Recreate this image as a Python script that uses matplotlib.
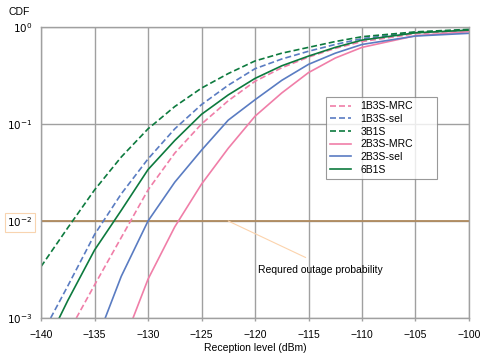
import matplotlib.pyplot as plt
import numpy as np

plt.rcParams['font.family'] = ['Liberation Sans', 'DejaVu Sans']

# CDF curves (x in dBm, y as log10 of CDF)
x_3b1s = [-140, -137.5, -135, -132.5, -130, -127.5, -125, -122.5, -120, -117.5, -115, -112.5, -110, -105, -100]
lg_3b1s = [-2.47, -2.07, -1.68, -1.34, -1.05, -0.82, -0.63, -0.48, -0.35, -0.27, -0.21, -0.15, -0.10, -0.05, -0.024]

x_1b3s_sel = [-139.1, -137.5, -135, -132.5, -130, -127.5, -125, -122.5, -120, -117.5, -115, -112.5, -110, -105, -100]
lg_1b3s_sel = [-3.0, -2.67, -2.14, -1.72, -1.36, -1.05, -0.80, -0.60, -0.43, -0.33, -0.25, -0.18, -0.12, -0.055, -0.03]

x_6b1s = [-138.3, -137.5, -135, -132.5, -130, -127.5, -125, -122.5, -120, -117.5, -115, -112.5, -110, -105, -100]
lg_6b1s = [-3.0, -2.82, -2.3, -1.89, -1.47, -1.17, -0.90, -0.70, -0.53, -0.40, -0.30, -0.21, -0.135, -0.06, -0.032]

x_1b3s_mrc = [-136.7, -135, -132.5, -130, -127.5, -125, -122.5, -120, -117.5, -115, -112.5, -110, -105, -100]
lg_1b3s_mrc = [-3.0, -2.66, -2.17, -1.68, -1.30, -1.0, -0.76, -0.56, -0.42, -0.31, -0.22, -0.15, -0.07, -0.035]

x_2b3s_sel = [-134.0, -132.5, -130, -127.5, -125, -122.5, -120, -117.5, -115, -112.5, -110, -105, -100]
lg_2b3s_sel = [-3.0, -2.57, -2.0, -1.6, -1.27, -0.96, -0.75, -0.55, -0.385, -0.27, -0.18, -0.093, -0.065]

x_2b3s_mrc = [-131.4, -130, -127.5, -125, -122.5, -120, -117.5, -115, -112.5, -110, -105, -100]
lg_2b3s_mrc = [-3.0, -2.6, -2.06, -1.62, -1.25, -0.92, -0.68, -0.47, -0.32, -0.21, -0.09, -0.048]

outage = 1e-2
xticks = [-140, -135, -130, -125, -120, -115, -110, -105, -100]
yticks = [1e-3, 1e-2, 1e-1, 1]
ytick_labels = ['$10^{-3}$', '$10^{-2}$', '$10^{-1}$', '$10^{0}$']

green = '#0d7a3e'
blue = '#5a7cc2'
pink = '#f07ea8'
grid_c = '#a0a0a0'

fig = plt.figure(figsize=(4.86, 3.62), dpi=100)
ax = fig.add_axes([0.0844, 0.1215, 0.8806, 0.8039])

dash = (3.6, 1.8)
ax.plot(x_1b3s_mrc, np.power(10.0, lg_1b3s_mrc), color=pink, lw=1.2, dashes=dash, label='1B3S-MRC')
ax.plot(x_1b3s_sel, np.power(10.0, lg_1b3s_sel), color=blue, lw=1.2, dashes=dash, label='1B3S-sel')
ax.plot(x_3b1s, np.power(10.0, lg_3b1s), color=green, lw=1.2, dashes=dash, label='3B1S')
ax.plot(x_2b3s_mrc, np.power(10.0, lg_2b3s_mrc), color=pink, lw=1.2, label='2B3S-MRC')
ax.plot(x_2b3s_sel, np.power(10.0, lg_2b3s_sel), color=blue, lw=1.2, label='2B3S-sel')
ax.plot(x_6b1s, np.power(10.0, lg_6b1s), color=green, lw=1.2, label='6B1S')

ax.axhline(outage, color='#b08a5e', lw=1.3, zorder=1)

ax.set_yscale('log')
ax.set_xlim(-140, -100)
ax.set_ylim(1e-3, 1)
ax.set_xticks(xticks)
ax.set_xticklabels(['\u2212%d' % abs(t) for t in xticks])
ax.set_yticks(yticks)
ax.set_yticklabels(ytick_labels)
ax.minorticks_off()
ax.tick_params(axis='both', labelsize=7.5, length=2.5, color=grid_c, width=1)
ax.tick_params(axis='y', length=0, pad=6)
ax.tick_params(axis='x', pad=6)
ax.grid(True, color=grid_c, lw=1)
ax.set_axisbelow(True)
for s in ax.spines.values():
    s.set_color(grid_c)
    s.set_linewidth(1)

ax.get_yticklabels()[1].set_bbox(dict(boxstyle='square,pad=0.25', fc='white', ec='#f8d4b0', lw=0.8))

ax.set_xlabel('Reception level (dBm)', fontsize=7.5, labelpad=2)
fig.text(0.018, 0.968, 'CDF', fontsize=7.5, va='center')

ax.annotate('Requred outage probability', xy=(-122.5, outage), xytext=(-119.7, 10**-2.5),
            fontsize=7.5, va='center',
            arrowprops=dict(arrowstyle='-', color='#fcd3ac', lw=0.8, shrinkA=0,
                            shrinkB=0, relpos=(0.38, 1.7)))

leg = ax.legend(loc='upper left', bbox_to_anchor=(0.666, 0.478, 0.259, 0.281), mode='expand',
                borderaxespad=0, fontsize=7.5, frameon=True, fancybox=False,
                handlelength=2.0, handletextpad=0.9, labelspacing=0.26, borderpad=0.4)
leg.get_frame().set_edgecolor('#808080')
leg.get_frame().set_linewidth(0.8)

fig.savefig('out.png', dpi=100)
